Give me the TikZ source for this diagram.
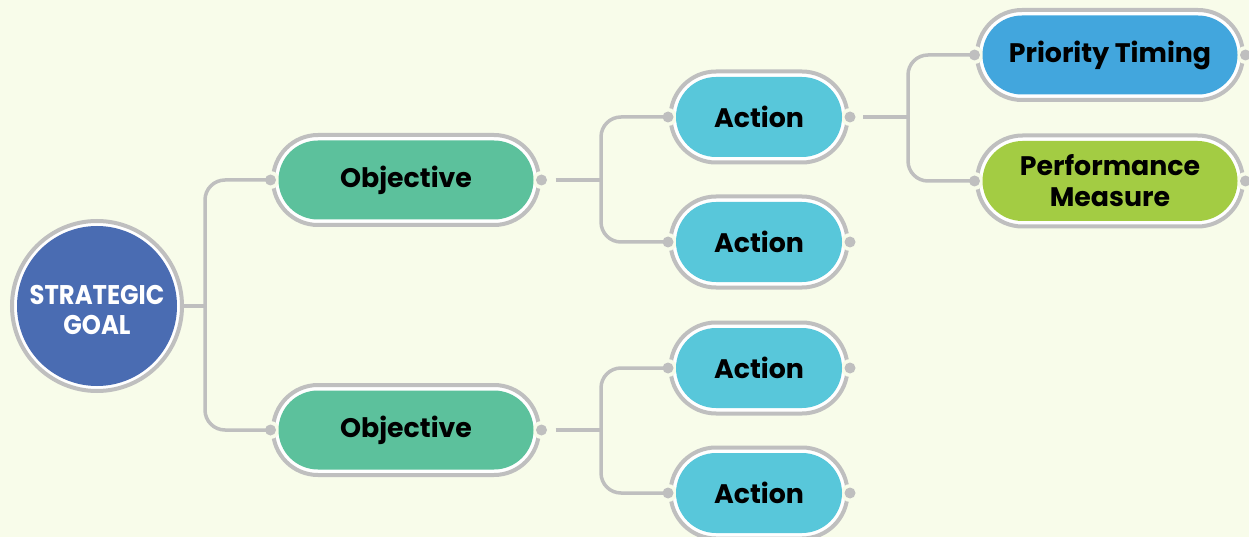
\documentclass[tikz,border=0pt]{standalone}
\usepackage{fontspec}
\setmainfont{Poppins}
\newfontfamily\goalfont[FakeStretch=0.9]{Poppins}
\usetikzlibrary{shapes.misc,calc}
\definecolor{bgc}{HTML}{F8FCEA}
\definecolor{ringgray}{HTML}{BFBFBF}
\definecolor{goalblue}{HTML}{4A6CB2}
\definecolor{objgreen}{HTML}{5CC19C}
\definecolor{actcyan}{HTML}{58C7DA}
\definecolor{ptblue}{HTML}{42A6DD}
\definecolor{pmgreen}{HTML}{A3CC43}
\tikzset{
  ringbox/.style={rounded rectangle, draw=ringgray, line width=4pt, fill=white, inner sep=0pt, outer sep=0pt},
  pillbox/.style={rounded rectangle, fill=#1, inner sep=0pt, outer sep=0pt, align=center,
    font=\fontsize{26.8}{31}\selectfont\bfseries, text=black},
  conn/.style={draw=ringgray, line width=3.5pt},
  rconn/.style={conn, rounded corners=20pt},
}
\newcommand\mmpill[6]{%
  \node[ringbox, minimum width=#3+11, minimum height=#4+11] (#1r) at #2 {};
  \coordinate (#1L) at ($(#1r.west)+(-2.5,0)$);
  \coordinate (#1R) at ($(#1r.east)+(2.5,0)$);
  \fill[bgc] (#1L) circle (9pt) (#1R) circle (9pt);
  \node[pillbox=#5, minimum width=#3, minimum height=#4] (#1) at #2 {#6};
  \fill[ringgray] (#1L) circle (5.5pt) (#1R) circle (5.5pt);
}
\begin{document}
\begin{tikzpicture}[x=1pt,y=-1pt]
\useasboundingbox (0,0) rectangle (1249,537);
\fill[bgc] (0,0) rectangle (1249,537);
% goal
\node[circle, draw=ringgray, line width=4pt, fill=white, minimum size=170pt, inner sep=0pt, outer sep=0pt] (gr) at (97,306) {};
\node[circle, fill=goalblue, minimum size=160pt, inner sep=0pt] (g) at (97,306) {};
\node[align=center, text=white, inner sep=0pt,
  font=\goalfont\fontsize{27}{30}\selectfont\bfseries] (gt) at (97,310) {STRATEGIC\\GOAL};
% pills
\mmpill{o1}{(406,180)}{255}{79}{objgreen}{Objective}
\mmpill{o2}{(406,430)}{255}{79}{objgreen}{Objective}
\mmpill{a1}{(759,117)}{166}{80}{actcyan}{Action}
\mmpill{a2}{(759,242)}{166}{80}{actcyan}{Action}
\mmpill{a3}{(759,368)}{166}{80}{actcyan}{Action}
\mmpill{a4}{(759,493)}{166}{80}{actcyan}{Action}
\mmpill{pt}{(1110,55)}{255}{79}{ptblue}{Priority Timing}
\mmpill{pm}{(1110,181)}{255}{80}{pmgreen}{Performance\\Measure}
% connectors
\coordinate (j1) at (205,306);
\coordinate (j2) at (601,180);
\coordinate (j3) at (601,430);
\coordinate (j4) at (908,117);
\draw[conn] (gr.east) -- (j1);
\draw[rconn] (o1L) -| (j1) |- (o2L);
\draw[conn] ($(o1R)+(14,0)$) -- (j2);
\draw[rconn] (a1L) -| (j2) |- (a2L);
\draw[conn] ($(o2R)+(14,0)$) -- (j3);
\draw[rconn] (a3L) -| (j3) |- (a4L);
\draw[conn] ($(a1R)+(13,0)$) -- (j4);
\draw[rconn] (ptL) -| (j4) |- (pmL);
\end{tikzpicture}
\end{document}
